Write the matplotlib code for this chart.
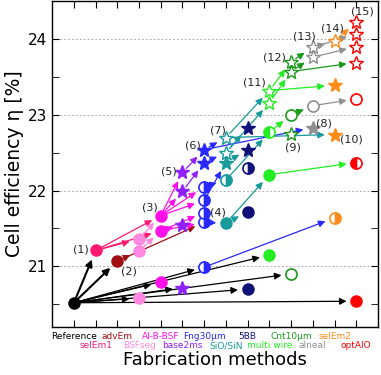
import matplotlib.pyplot as plt
from matplotlib.ticker import MultipleLocator

# categories along x
cats = ["Reference", "selEm1", "advEm", "BSFseg", "Al-B-BSF", "base2ms", "Fng30µm",
        "SiO/SiN", "5BB", "multi wire", "Cnt10µm", "alneal", "selEm2", "optAlO"]
cat_colors = ["#000000", "#ff1a70", "#a01010", "#ff88e0", "#ff10e8", "#9020ff", "#2828ff",
              "#169a9a", "#10107a", "#22ee22", "#1a9a1a", "#909090", "#ff8c1a", "#ff0000"]

# points: category index, efficiency, marker kind
pt_cat = [0, 1, 2, 3, 3, 3, 4, 4, 4, 5, 5, 5, 5,
          6, 6, 6, 6, 6, 6, 6,
          7, 7, 7, 7, 7,
          8, 8, 8, 8, 8,
          9, 9, 9, 9, 9,
          10, 10, 10, 10, 10,
          11, 11, 11, 11,
          12, 12, 12, 12,
          13, 13, 13, 13, 13, 13, 13]
pt_eta = [20.52, 21.21, 21.07, 20.58, 21.20, 21.36, 20.79, 21.47, 21.67, 20.72, 21.55, 21.99, 22.24,
          20.99, 21.58, 21.71, 21.87, 22.05, 22.37, 22.54,
          21.57, 22.14, 22.37, 22.50, 22.70,
          20.70, 21.72, 22.30, 22.54, 22.83,
          21.15, 22.21, 22.77, 23.16, 23.32,
          20.90, 22.75, 23.00, 23.57, 23.70,
          22.83, 23.12, 23.76, 23.89,
          21.64, 22.74, 23.39, 23.97,
          20.54, 22.37, 23.21, 23.69, 23.90, 24.07, 24.22]
pt_kind = ["o", "o", "o", "o", "o", "o", "o", "o", "o", "star", "star", "star", "star",
           "half", "half", "half", "half", "half", "star", "star",
           "o", "half", "star", "ostar", "ostar",
           "o", "o", "half", "star", "star",
           "o", "o", "halfL", "ostar", "ostar",
           "open", "ostar", "open", "ostar", "ostar",
           "star", "open", "ostar", "ostar",
           "half", "star", "star", "ostar",
           "o", "halfL", "open", "ostar", "ostar", "ostar", "ostar"]

# arrows: from point, to point (colour of the source category)
arr_from = [0, 0, 0, 0, 0, 0, 0, 0, 0, 0, 13,
            1, 1, 1, 2, 2, 5, 4,
            8, 8, 8, 8, 7, 7, 7,
            12, 11,
            19, 18, 19, 17, 16, 14,
            24, 23, 24, 22, 23, 21, 20, 20,
            31, 32, 34, 33, 34,
            37, 39, 38, 38,
            41, 43, 42, 43,
            47]
arr_to = [1, 2, 3, 6, 9, 13, 25, 30, 35, 48, 44,
          8, 5, 7, 4, 14, 8, 7,
          12, 11, 17, 16, 15, 14, 10,
          19, 18,
          24, 23, 40, 21, 22, 20,
          34, 33, 45, 28, 29, 32, 26, 31,
          49, 37, 39, 38, 46,
          41, 43, 42, 51,
          50, 53, 52, 47,
          54]

# numbered labels
lab_text = ["(1)", "(2)", "(3)", "(4)", "(5)", "(6)", "(7)", "(8)", "(9)", "(10)",
            "(11)", "(12)", "(13)", "(14)", "(15)"]
lab_x = [0.32, 2.52, 3.52, 6.64, 4.35, 5.49, 6.64, 11.53, 10.07, 12.77,
         8.33, 9.24, 10.62, 11.9, 13.27]
lab_y = [21.22, 20.93, 21.78, 21.71, 22.25, 22.59, 22.79, 22.88, 22.57, 22.67,
         23.43, 23.76, 24.03, 24.14, 24.36]

fig = plt.figure(figsize=(3.81, 3.75), dpi=100)
ax = fig.add_axes([0.137, 0.128, 0.855, 0.869])

for y in [21, 22, 23, 24]:
    ax.axhline(y, color="#b0b0b0", lw=0.7, ls=(0, (2, 2)), zorder=0)

# arrows first so markers sit on top
for a, b in zip(arr_from, arr_to):
    c = cat_colors[pt_cat[a]]
    lw = 1.5 if (a == 0 and b in (1, 2)) else 0.9
    ax.annotate("", xy=(pt_cat[b], pt_eta[b]), xytext=(pt_cat[a], pt_eta[a]),
                arrowprops=dict(arrowstyle="-|>", color=c, lw=lw, mutation_scale=10,
                                shrinkA=4, shrinkB=7), zorder=2)

for cx, e, k in zip(pt_cat, pt_eta, pt_kind):
    c = cat_colors[cx]
    if k == "o":
        ax.plot(cx, e, "o", ms=8, color=c, mec=c, zorder=3)
    elif k == "open":
        ax.plot(cx, e, "o", ms=8, mfc="white", mec=c, mew=1.2, zorder=3)
    elif k == "half":
        ax.plot(cx, e, "o", ms=8, color=c, fillstyle="right", mfc=c,
                markerfacecoloralt="white", mec=c, mew=1.2, zorder=3)
    elif k == "halfL":
        ax.plot(cx, e, "o", ms=8, color=c, fillstyle="left", mfc=c,
                markerfacecoloralt="white", mec=c, mew=1.2, zorder=3)
    elif k == "star":
        ax.plot(cx, e, "*", ms=10.5, color=c, mec=c, zorder=3)
    else:
        ax.plot(cx, e, "*", ms=10.5, mfc="white", mec=c, mew=1.0, zorder=3)

for t, x, y in zip(lab_text, lab_x, lab_y):
    ax.text(x, y, t, fontsize=8, ha="center", va="center", color="#222222", zorder=4)

ax.set_xlim(-1, 14)
ax.set_ylim(20.2, 24.5)
ax.set_xticks(range(len(cats)))
ax.set_xticklabels([])
ax.yaxis.set_major_locator(MultipleLocator(1))
ax.yaxis.set_minor_locator(MultipleLocator(0.5))
ax.tick_params(axis="both", which="both", direction="in", top=True, right=True)
ax.tick_params(axis="both", which="major", length=5, labelsize=11)
ax.tick_params(axis="y", which="minor", length=5)
for s in ax.spines.values():
    s.set_linewidth(1.0)

for i, (name, c) in enumerate(zip(cats, cat_colors)):
    yy = -0.028 if i % 2 == 0 else -0.058
    ax.text(i, yy, name, color=c, fontsize=6.5, ha="center", va="center",
            transform=ax.get_xaxis_transform())

ax.set_ylabel("Cell efficiency η [%]", fontsize=13.5, labelpad=3)
ax.set_xlabel("Fabrication methods", fontsize=13, labelpad=14)

fig.savefig("out.png", dpi=100)
